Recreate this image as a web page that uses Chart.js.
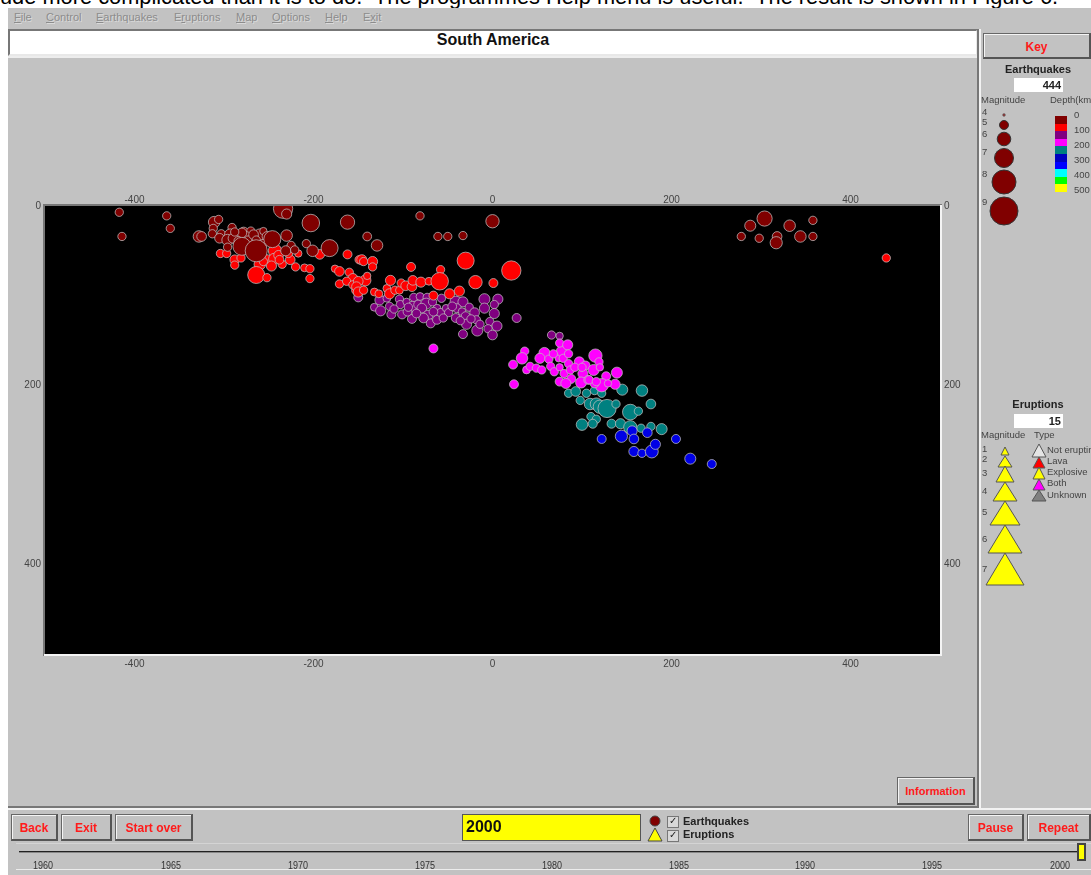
<!DOCTYPE html>
<html>
<head>
<meta charset="utf-8">
<title>South America</title>
<script src="https://cdn.jsdelivr.net/npm/chart.js@4"></script>
<style>
  html, body { margin: 0; padding: 0; background: #fff; overflow: hidden; }
  body { position: relative; width: 1091px; height: 875px; font-family: "Liberation Sans", Arial, sans-serif; filter: blur(.35px); }
  .box, .t, canvas, svg { position: absolute; }
  .t { white-space: nowrap; line-height: 1; }
  .window { left: 8px; top: 8px; width: 1083px; height: 867px; background: #c2c2c2; }
  .sunk { background: #fff; border: 2px solid #777; border-right-color: #e8e8e8; border-bottom-color: #e8e8e8; box-sizing: border-box; }
  .btn { background: #c2c2c2; border: 1px solid #666; border-right: 2px solid #555; border-bottom: 2px solid #555; box-sizing: border-box;
         box-shadow: inset 1px 1px #f4f4f4; color: #ff1a1a; font-weight: bold; font-size: 12px; text-align: center; }
  .menu { font-size: 11px; color: #8c8c8c; top: 12px; text-shadow: 1px 1px 0 #dadada; }
  .yr { font-size: 10px; color: #333; top: 861px; transform: scaleX(.9); transform-origin: center; }
  .key { font-size: 9.5px; color: #444; }
  .bold { font-weight: bold; color: #222; }
</style>
</head>
<body>

<div class="t" style="left:0;top:-14px;font-size:21.8px;color:#000">ude more complicated than it is to do.&nbsp; The programmes Help menu is useful.&nbsp; The result is shown in Figure 6.</div>

<div class="box window"></div>

<!-- menu -->
<div class="t menu" style="left:14px"><u>F</u>ile</div>
<div class="t menu" style="left:46px"><u>C</u>ontrol</div>
<div class="t menu" style="left:96px"><u>E</u>arthquakes</div>
<div class="t menu" style="left:174px">E<u>r</u>uptions</div>
<div class="t menu" style="left:236px"><u>M</u>ap</div>
<div class="t menu" style="left:272px"><u>O</u>ptions</div>
<div class="t menu" style="left:325px"><u>H</u>elp</div>
<div class="t menu" style="left:363px">E<u>x</u>it</div>

<!-- title and panel separators -->
<div class="box sunk" style="left:8px;top:29px;width:970px;height:27px"></div>
<div class="t" style="left:8px;width:970px;top:32px;text-align:center;font-weight:bold;font-size:16px;color:#111">South America</div>
<div class="box" style="left:8px;top:56px;width:970px;height:2px;background:#ededed"></div>
<div class="box" style="left:8px;top:806px;width:970px;height:2px;background:#777"></div>
<div class="box" style="left:8px;top:808px;width:1083px;height:2px;background:#f2f2f2"></div>
<div class="box" style="left:977px;top:29px;width:2px;height:779px;background:#777"></div>
<div class="box" style="left:979px;top:29px;width:2px;height:779px;background:#f2f2f2"></div>

<canvas id="grafica-sismos" style="left:0;top:180px"></canvas>

<!-- key -->
<div class="box btn" style="left:983px;top:33px;width:108px;height:26px;line-height:26px">Key</div>
<div class="t bold" style="left:983px;width:110px;top:64px;text-align:center;font-size:11px">Earthquakes</div>
<div class="box" style="left:1014px;top:78px;width:49px;height:14px;background:#fff"></div>
<div class="t bold" style="left:1014px;width:47px;top:80px;text-align:right;font-size:11px">444</div>
<div class="t key" style="left:981px;top:95px">Magnitude</div>
<div class="t key" style="left:1050px;top:95px">Depth(km)</div>
<div id="etiquetas-mag-sismo"></div>
<div id="etiquetas-prof"></div>
<svg id="simbolos" width="1091" height="875" style="left:0;top:0">
  <g fill="#800000" stroke="#333" stroke-width="1">
    <circle cx="1004" cy="115" r="1.4" fill="#800000" stroke="#888"/>
    <circle cx="1004" cy="125" r="4.5"/>
    <circle cx="1004" cy="139" r="6.8"/>
    <circle cx="1004" cy="158" r="9.5"/>
    <circle cx="1004" cy="182" r="12"/>
    <circle cx="1004" cy="211" r="14"/>
  </g>
  <g fill="#ffff00" stroke="#555" stroke-width="1">
    <polygon points="1005,447 1001,455 1009,455"/>
    <polygon points="1005,456 998,467 1012,467"/>
    <polygon points="1005,466 996,482 1014,482"/>
    <polygon points="1005,482 993,501 1017,501"/>
    <polygon points="1005,501 990,525 1020,525"/>
    <polygon points="1005,525 988,553 1022,553"/>
    <polygon points="1005,553 986,585 1024,585"/>
  </g>
  <g stroke="#555" stroke-width="1">
    <polygon points="1039,444 1032,457 1046,457" fill="#e4e4e4"/>
    <polygon points="1039,457 1033,468 1045,468" fill="#ff0000"/>
    <polygon points="1039,467 1033,479 1045,479" fill="#ffff00"/>
    <polygon points="1039,479 1033,490 1045,490" fill="#ff00ff"/>
    <polygon points="1039,490 1032,501 1046,501" fill="#808080"/>
  </g>
  <circle cx="655" cy="821" r="5" fill="#800000" stroke="#444"/>
  <polygon points="655,828 648,841 662,841" fill="#ffff00" stroke="#444"/>
</svg>
<div id="prof-barra"></div>

<div class="t bold" style="left:983px;width:110px;top:399px;text-align:center;font-size:11px">Eruptions</div>
<div class="box" style="left:1014px;top:414px;width:49px;height:14px;background:#fff"></div>
<div class="t bold" style="left:1014px;width:47px;top:416px;text-align:right;font-size:11px">15</div>
<div class="t key" style="left:981px;top:430px">Magnitude</div>
<div class="t key" style="left:1034px;top:430px">Type</div>
<div id="etiquetas-mag-erup"></div>
<div id="etiquetas-tipo"></div>

<div class="box btn" style="left:897px;top:777px;width:78px;height:28px;line-height:27px;font-size:11px">Information</div>

<!-- bottom controls -->
<div class="box btn" style="left:11px;top:814px;width:47px;height:27px;line-height:26px">Back</div>
<div class="box btn" style="left:61px;top:814px;width:51px;height:27px;line-height:26px">Exit</div>
<div class="box btn" style="left:115px;top:814px;width:78px;height:27px;line-height:26px">Start over</div>
<div class="box" style="left:462px;top:814px;width:179px;height:27px;background:#ffff00;border:1px solid #555;box-sizing:border-box"></div>
<div class="t" style="left:466px;top:819px;font-weight:bold;font-size:16px;color:#111">2000</div>
<div class="box" style="left:667px;top:816px;width:10px;height:10px;background:#d8d8d8;border:1px solid #777"></div>
<div class="box" style="left:667px;top:830px;width:10px;height:10px;background:#d8d8d8;border:1px solid #777"></div>
<div class="t" style="left:669px;top:816px;font-size:10px;color:#222">&#10003;</div>
<div class="t" style="left:669px;top:830px;font-size:10px;color:#222">&#10003;</div>
<div class="t bold" style="left:683px;top:816px;font-size:11px">Earthquakes</div>
<div class="t bold" style="left:683px;top:829px;font-size:11px">Eruptions</div>
<div class="box btn" style="left:968px;top:814px;width:56px;height:27px;line-height:26px">Pause</div>
<div class="box btn" style="left:1027px;top:814px;width:64px;height:27px;line-height:26px">Repeat</div>

<!-- year slider -->
<div class="box" style="left:16px;top:843px;width:1075px;height:27px;overflow:hidden;border-top:1px solid #d4d4d4;border-bottom:1px solid #ececec;box-sizing:border-box"></div>
<div class="box" style="left:19px;top:851px;width:1060px;height:1px;background:#222;box-shadow:0 1px #888"></div>
<div id="anios"></div>
<div class="box" style="left:1077px;top:843px;width:9px;height:18px;background:#ffff00;border:2px solid #444;box-sizing:border-box"></div>

<script>
// ---------------------------------------------------------------
// Data: [distance km, depth km, magnitude]
// ---------------------------------------------------------------
const sismosMuySomeros = [
  [-417,7,4.5],[-364,11,4.5],[-360,25,4.5],[-414,34,4.5],[-311,18,5.2],[-306,15,4.5],[-312,25,4.5],
  [-328,34,5.2],[-325,34,4.8],[-313,31,4.5],[-303,31,4.5],[-305,36,4.8],[-291,24,4.5],[-293,32,5.2],
  [-296,38,5.2],[-285,34,5.2],[-278,29,4.8],[-270,28,4.5],[-275,34,4.8],[-260,32,5.2],[-256,28,4.3],
  [-290,36,4.8],[-280,30,4.8],[-273,38,4.5],[-267,32,4.8],[-252,34,4.8],[-264,38,4.5],[-256,42,4.5],
  [-284,39,4.6],[-288,29,4.5],[-246,37,6.4],[-280,45,6.6],[-264,50,7.5],[-230,33,5.2],[-225,44,4.5],
  [-231,50,4.9],[-221,49,4.5],[-296,46,4.5],[-234,3,6.9],[-230,9,4.9],[-203,19,6.5],[-162,18,5.8],
  [-208,42,4.5],[-201,50,5.2],[-182,47,6.4],[-140,34,4.6],[-129,44,5.2],[-81,11,4.5],[-61,34,4.5],
  [-50,34,4.5],[-33,33,4.5],[0,17,5.6],[304,14,6],[288,22,5.1],[278,34,4.5],[298,36,4.5],[318,34,4.8],
  [317,41,5.35],[332,22,5.2],[344,34,5.2],[358,34,4.5],[358,16,4.5]
];
const sismosSomeros = [
  [440,58,4.5],[-304,53,4.5],[-297,53,4.5],[-288,60,4.8],[-288,66,4.5],[-281,58,4.5],[-243,50,5.6],
  [-252,59,4.5],[-244,59,5.1],[-247,67,4.9],[-260,65,5.2],[-264,77,6.4],[-252,80,4.5],[-235,65,4.5],
  [-226,60,4.8],[-220,68,4.5],[-217,53,4.3],[-210,69,4.4],[-204,70,4.5],[-204,81,4.5],[-193,54,4.8],
  [-162,54,4.65],[-149,60,4.5],[-176,70,4.3],[-171,73,4.8],[-160,74,4.5],[-156,81,4.9],[-171,87,4.5],
  [-163,84,4.5],[-152,94,4.8],[-156,88,4.5],[-239,55,4.8],[-256,62,4.5],[-228,53,4.5],[-238,60,4.6],
  [-146,60,4.9],[-144,62,4.5],[-134,62,4.9],[-134,68,4.5],[-142,83,5.1],[-150,84,4.8],[-152,90,4.8],
  [-140,78,4.3],[-150,96,4.9],[-144,94,4.5],[-132,96,4.4],[-127,98,4.4],[-118,92,4.4],[-115,98,4.9],
  [-114,83,4.9],[-109,94,4.5],[-104,94,4.4],[-102,86,4.5],[-97,89,4.8],[-90,90,4.8],[-89,83,4.8],
  [-80,85,4.9],[-71,84,4.4],[-91,68,4.65],[-58,71,4.5],[-59,84,6.5],[-66,100,4.65],[-48,98,4.9],
  [-37,95,4.9],[-30,61,6.4],[-19,85,5.6],[1,86,4.65],[21,72,6.9]
];
const sismosMedios = [
  [-150,102,4.65],[-132,113,4.4],[-126,105,4.8],[-125,117,4.9],[-115,112,4.5],[-113,121,4.65],[-118,103,4.4],
  [-104,104,4.5],[-103,110,4.5],[-101,121,4.65],[-96,107,4.3],[-88,102,4.5],[-89,112,4.9],[-83,110,4.65],
  [-90,126,4.65],[-81,101,4.4],[-73,102,4.5],[-74,109,5.1],[-79,114,4.8],[-72,122,4.9],[-77,125,4.8],
  [-69,131,4.65],[-62,127,4.65],[-62,114,4.4],[-58,119,4.5],[-57,103,4.5],[-52,114,4.3],[-49,119,4.5],
  [-41,107,5.2],[-33,107,4.9],[-40,114,4.65],[-41,125,4.65],[-34,118,4.4],[-26,113,4.5],[-30,123,4.65],
  [-20,119,4.8],[-18,127,4.5],[-29,132,4.9],[-9,104,5.1],[6,104,4.9],[-9,114,4.9],[2,110,4.5],[2,120,4.9],
  [-3,129,4.5],[5,134,4.9],[-5,137,4.5],[-17,139,5.1],[0,144,4.8],[-33,143,4.65],[27,125,4.65],[66,144,4.5],
  [75,145,4.3],[-110,115,4.5],[-95,118,4.6],[-85,120,4.6],[-66,118,4.6],[-55,125,4.5],[-36,128,4.5],[-24,126,4.5],
  [-45,112,4.6],[-14,132,4.5],[-67,107,4.5],[-94,113,4.5]
];
const sismosIntermedios = [
  [-66,159,4.65],[23,177,4.65],[24,199,4.65],[36,162,4.5],[33,170,5.2],[38,183,4.4],[42,179,4.5],[49,181,4.5],
  [55,183,4.5],[58,164,5.1],[53,170,4.9],[63,171,4.5],[65,179,4.5],[69,185,4.5],[74,170,4.3],[77,162,4.9],
  [75,153,4.5],[84,155,4.9],[79,170,4.5],[85,176,4.5],[75,180,4.3],[80,187,4.5],[87,183,4.5],[88,193,4.65],
  [75,196,4.65],[82,198,4.9],[97,174,4.9],[104,178,4.65],[101,187,4.9],[99,197,5.1],[107,194,4.65],[113,183,5.1],
  [115,167,5.6],[119,174,4.5],[120,180,4.3],[127,190,4.65],[139,186,5.1],[137,199,4.9],[122,200,5.6],[114,198,4.65],
  [129,198,4.3],[92,180,4.5],[108,194,4.5],[68,165,4.5],[85,165,4.5],[100,180,4.5],[116,196,4.5]
];
const sismosProfundos = [
  [85,209,4.5],[93,207,4.8],[105,209,4.5],[114,206,4.5],[122,209,4.5],[145,205,5.1],[167,206,5.2],[98,217,4.5],
  [109,221,5.2],[116,221,5.35],[120,224,5.6],[128,226,6.65],[138,221,4.5],[154,230,6.1],[163,229,4.5],[177,221,4.8],
  [100,244,5.2],[110,235,4.5],[116,238,4.5],[112,243,4.65],[133,243,4.65],[143,243,4.9],[154,247,5.6],[166,248,4.5],
  [177,246,4.5],[189,249,5.1]
];
const sismosMuyProfundos = [
  [122,260,4.65],[144,257,5.35],[156,251,4.9],[158,260,4.8],[173,253,4.8],[158,274,4.9],[167,276,4.5],[178,274,5.5],
  [182,266,4.9],[205,260,4.65],[221,282,5.1],[245,288,4.65]
];

const TICKS_X = [-400, -200, 0, 200, 400];
const TICKS_Y = [0, 200, 400];

const MAGS_SISMO = ['4', '5', '6', '7', '8', '9'];
const MAGS_ERUPCION = ['1', '2', '3', '4', '5', '6', '7'];
const PROF_ETIQUETAS = ['0', '100', '200', '300', '400', '500'];
const TIPOS = ['Not erupting', 'Lava', 'Explosive', 'Both', 'Unknown'];
const ANIOS = ['1960', '1965', '1970', '1975', '1980', '1985', '1990', '1995', '2000'];

const COLOR_PROF = ['#800000', '#ff0000', '#800080', '#ff00ff', '#008080', '#0000c0', '#0000ff', '#00ffff', '#00ff00', '#ffff00'];

// ---------------------------------------------------------------
// Magnitude -> bubble radius in pixels
// ---------------------------------------------------------------
function radioDeMagnitud(m) {
  return 3 + (m - 4) * 2.3;
}

function puntos(lista) {
  return lista.map(p => ({ x: p[0], y: p[1], r: radioDeMagnitud(p[2]) }));
}

function serie(lista, color, orden) {
  return {
    data: puntos(lista),
    backgroundColor: color,
    borderColor: 'rgba(190,190,190,0.75)',
    borderWidth: 1,
    clip: 0,
    order: orden
  };
}

// ---------------------------------------------------------------
// Black plot area and its sunken edge
// ---------------------------------------------------------------
const marcoPlot = {
  id: 'marcoPlot',
  beforeDatasetsDraw(chart) {
    const { ctx, chartArea: a } = chart;
    ctx.save();
    ctx.fillStyle = '#777';
    ctx.fillRect(a.left - 2, a.top - 2, a.right - a.left + 4, a.bottom - a.top + 4);
    ctx.fillStyle = '#f4f4f4';
    ctx.fillRect(a.left - 1, a.bottom, a.right - a.left + 3, 2);
    ctx.fillRect(a.right, a.top - 1, 2, a.bottom - a.top + 3);
    ctx.fillStyle = '#000';
    ctx.fillRect(a.left, a.top, a.right - a.left, a.bottom - a.top);
    ctx.restore();
  }
};

function ejeX(posicion, alto, relleno) {
  return {
    type: 'linear', position: posicion, min: -500, max: 500,
    grid: { display: false, drawTicks: false }, border: { display: false },
    afterBuildTicks: s => { s.ticks = TICKS_X.map(v => ({ value: v })); },
    afterFit: s => { s.height = alto; },
    ticks: { color: '#444', font: { size: 10, family: 'Liberation Sans' }, padding: relleno, maxRotation: 0, autoSkip: false }
  };
}

function ejeY(posicion, ancho) {
  return {
    type: 'linear', position: posicion, min: 0, max: 500, reverse: true,
    grid: { display: false, drawTicks: false }, border: { display: false },
    afterBuildTicks: s => { s.ticks = TICKS_Y.map(v => ({ value: v })); },
    afterFit: s => { s.width = ancho; },
    ticks: { color: '#444', font: { size: 10, family: 'Liberation Sans' }, padding: 4, autoSkip: false }
  };
}

const lienzo = document.getElementById('grafica-sismos');
lienzo.width = 1000;
lienzo.height = 500;

new Chart(lienzo, {
  type: 'bubble',
  data: {
    datasets: [
      serie(sismosMuySomeros, '#800000', 1),
      serie(sismosSomeros, '#ff0000', 2),
      serie(sismosIntermedios, '#ff00ff', 3),
      serie(sismosMedios, '#800080', 4),
      serie(sismosMuyProfundos, '#0000e6', 5),
      serie(sismosProfundos, '#008080', 6)
    ]
  },
  options: {
    responsive: false,
    animation: false,
    devicePixelRatio: 1,
    layout: { padding: 0 },
    plugins: { legend: { display: false }, tooltip: { enabled: false } },
    scales: {
      x: ejeX('bottom', 26, 4),
      xTop: ejeX('top', 26, 0),
      y: ejeY('left', 45),
      yRight: ejeY('right', 60)
    }
  },
  plugins: [marcoPlot]
});

// ---------------------------------------------------------------
// Key labels
// ---------------------------------------------------------------
function etiquetas(idCaja, textos, izq, alturas, clase) {
  document.getElementById(idCaja).innerHTML = textos.map((t, i) =>
    `<div class="t ${clase}" style="left:${izq}px;top:${alturas[i]}px">${t}</div>`).join('');
}

etiquetas('etiquetas-mag-sismo', MAGS_SISMO, 982, [107, 117, 129, 147, 169, 197], 'key');
etiquetas('etiquetas-prof', PROF_ETIQUETAS, 1074, [110, 125, 140, 155, 170, 185], 'key');
etiquetas('etiquetas-mag-erup', MAGS_ERUPCION, 982, [444, 454, 468, 486, 507, 534, 564], 'key');
etiquetas('etiquetas-tipo', TIPOS, 1047, [445, 456, 467, 478, 490], 'key');

document.getElementById('prof-barra').innerHTML = COLOR_PROF.map((c, i) =>
  `<div class="box" style="left:1055px;top:${116 + i * 7.6}px;width:12px;height:7.6px;background:${c}"></div>`).join('');

const POS_ANIOS = [43, 171, 298, 425, 552, 679, 805, 932, 1060];
document.getElementById('anios').innerHTML = ANIOS.map((a, i) =>
  `<div class="t yr" style="left:${POS_ANIOS[i] - 20}px;width:40px;text-align:center;height:8px;overflow:hidden">${a}</div>`).join('');
</script>
</body>
</html>
